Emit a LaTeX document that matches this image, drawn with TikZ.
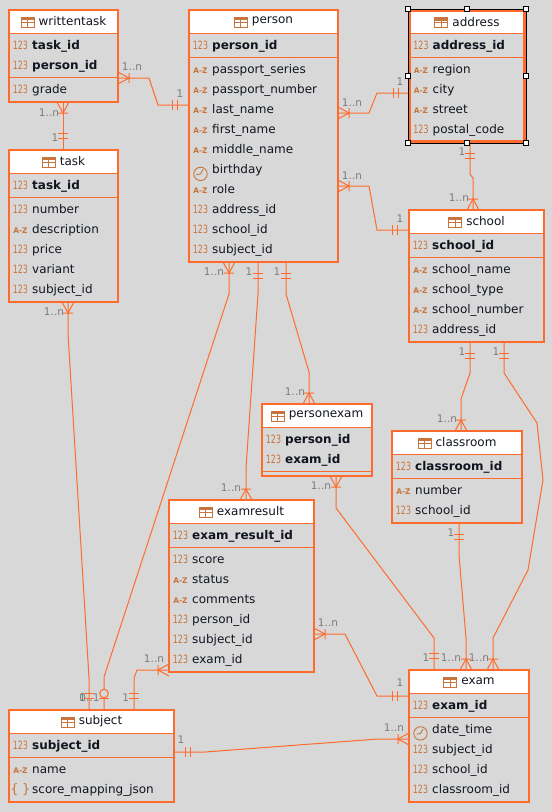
\documentclass[tikz,border=0pt]{standalone}
\usepackage{fontspec}
\setmainfont{DejaVu Sans}
\definecolor{bgcol}{HTML}{D8D8D8}
\definecolor{ercol}{HTML}{FF6B2C}
\definecolor{iconcol}{HTML}{C8743C}
\definecolor{labelcol}{HTML}{7C7C7C}
\definecolor{namecol}{HTML}{10151F}
\tikzset{
	tablebox/.style={draw=ercol,line width=2.3,inner sep=0,outer sep=0,anchor=north west},
	headbox/.style={fill=white,inner sep=0,outer sep=0,anchor=north west},
	rowline/.style={draw=ercol,line width=.9},
	titletext/.style={font=\fontsize{12}{14}\selectfont,text=namecol,inner sep=0,outer sep=0},
	colname/.style={font=\fontsize{12}{14}\selectfont,text=namecol,inner sep=0,anchor=base west},
	num/.style={font=\fontsize{11.4}{13}\selectfont,text=iconcol,inner sep=0,anchor=base},
	az/.style={font=\bfseries\fontsize{7.8}{9}\selectfont,text=iconcol,inner sep=0,anchor=base},
	brace/.style={font=\fontsize{13}{15}\selectfont,text=iconcol,inner sep=0,anchor=base},
	clock/.style={circle,draw=iconcol,line width=.9,minimum size=13.4,inner sep=0,anchor=center,
		path picture={\draw[iconcol,line width=.9] (path picture bounding box.center)++(-4,.8)--(path picture bounding box.center)--++(2.6,-4.4);}},
	relline/.style={draw=ercol,line width=1},
	rellabel/.style={font=\fontsize{10.5}{12}\selectfont,text=labelcol,inner sep=0,anchor=center},
	handle/.style={draw=black,fill=white,line width=1,minimum size=5,inner sep=0},
	selframe/.style={draw=black,line width=1,inner sep=0,outer sep=0,anchor=north west},
	tableicon/.pic={
		\fill[iconcol] (-7,-5) rectangle (7,-2);
		\draw[iconcol,line width=1] (-6.5,-5) rectangle (6.5,5) (-6.5,0)--(6.5,0) (0,-2)--(0,5);
	},
	onemark/.pic={
		\draw[relline] (11.5,-5)--(11.5,5) (16.5,-5)--(16.5,5);
	},
	manymark/.pic={
		\draw[relline] (0,-6)--(11,0)--(0,6) (11,-5)--(11,5);
	},
	zeromark/.pic={
		\draw[relline] (11.5,-5)--(11.5,5);
		\draw[relline,fill=bgcol] (16.5,0) circle (4.3);
	},
}
\newcommand{\iconnum}{\scalebox{.69}[1]{123}}
\newcommand{\iconaz}{\scalebox{.95}[1]{A-Z}}
\newcommand{\iconbrace}{\{\hspace{3.5pt}\}}
\newcommand{\iconclock}{}
\newcommand{\pk}[1]{\textbf{#1}}
% name, x, y, width, height, title
\newcommand{\erbox}[7][]{
	\node[headbox,minimum width=#5-2,minimum height=22] (#2-head) at (#3+1,#4+1) {};
	\node[tablebox,minimum width=#5,minimum height=#6,#1] (#2) at (#3,#4) {};
	\draw[rowline] (#2.west |- 0,#4+23.3) -- (#2.east |- 0,#4+23.3);
	\node[titletext] (#2-title) at (#3+#5/2,#4+11.5) {\hspace{18pt}#7};
	\pic at ([xshift=7pt,yshift=-.5pt]#2-title.west) {tableicon};
}
% table, x of the table, rows
\newcommand{\colrows}[3]{
	\foreach \yy/\ic/\txt [count=\n] in {#3} {
		\node[\ic] (#1-t\n) at (#2+11.5,\yy+4.4) {\csname icon\ic\endcsname};
		\node[colname] (#1-c\n) at (#2+23,\yy+4.4) {\txt};
	}
}
\newcommand{\seprow}[2]{\draw[rowline] (#1.west |- 0,#2) -- (#1.east |- 0,#2);}
\begin{document}
\begin{tikzpicture}[x=1pt,y=-1pt]
	\useasboundingbox (0,0) rectangle (552,812);
	\fill[bgcol] (0,0) rectangle (552,812);
	\erbox{writtentask}{9}{10}{109}{92}{writtentask}
	\seprow{writtentask}{77.3}
	\colrows{writtentask}{9}{45/num/\pk{task\_id},65/num/\pk{person\_id},89/num/grade}
	\erbox{task}{9}{150}{109}{152}{task}
	\seprow{task}{197.3}
	\colrows{task}{9}{185/num/\pk{task\_id},209/num/number,229/az/description,249/num/price,269/num/variant,289/num/subject\_id}
	\erbox{person}{189}{10}{149}{252}{person}
	\seprow{person}{57.3}
	\colrows{person}{189}{45/num/\pk{person\_id},69/az/passport\_series,89/az/passport\_number,109/az/last\_name,129/az/first\_name,149/az/middle\_name,169.5/clock/birthday,189/az/role,209/num/address\_id,229/num/school\_id,249/num/subject\_id}
	\erbox[line width=3]{address}{409.5}{10.5}{115}{131}{address}
	\seprow{address}{57.3}
	\colrows{address}{409.5}{45/num/\pk{address\_id},69/az/region,89/az/city,109/az/street,129/num/postal\_code}
	\erbox{school}{409}{210}{135}{132}{school}
	\seprow{school}{257.3}
	\colrows{school}{409}{245/num/\pk{school\_id},269/az/school\_name,289/az/school\_type,309/az/school\_number,329/num/address\_id}
	\erbox{personexam}{262}{404}{110}{72}{personexam}
	\seprow{personexam}{471.3}
	\colrows{personexam}{262}{439/num/\pk{person\_id},459/num/\pk{exam\_id}}
	\erbox{classroom}{392}{431}{130}{92}{classroom}
	\seprow{classroom}{478.3}
	\colrows{classroom}{392}{466/num/\pk{classroom\_id},490/az/number,510/num/school\_id}
	\erbox{examresult}{169}{500}{145}{172}{examresult}
	\seprow{examresult}{547.3}
	\colrows{examresult}{169}{535/num/\pk{exam\_result\_id},559/num/score,579/az/status,599/az/comments,619/num/person\_id,639/num/subject\_id,659/num/exam\_id}
	\erbox{subject}{9}{710}{165}{92}{subject}
	\seprow{subject}{757.3}
	\colrows{subject}{9}{745/num/\pk{subject\_id},769/az/name,789/brace/score\_mapping\_json}
	\erbox{exam}{409}{670}{120}{132}{exam}
	\seprow{exam}{717.3}
	\colrows{exam}{409}{705/num/\pk{exam\_id},729/clock/date\_time,749/num/subject\_id,769/num/school\_id,789/num/classroom\_id}
	\draw[relline] (writtentask.east |- 0,78) pic{manymark} -- (149,78) -- (158,105) -- (person.west |- 0,105) pic[rotate=180]{onemark};
	\draw[relline] (writtentask.south -| 63,0) pic[rotate=-90]{manymark} -- (task.north -| 63,0) pic[rotate=90]{onemark};
	\draw[relline] (person.east |- 0,113) pic{manymark} -- (369,113) -- (377,93) -- (address.west |- 0,93) pic[rotate=180]{onemark};
	\draw[relline] (person.east |- 0,186) pic{manymark} -- (369,186) -- (377,230) -- (school.west |- 0,230) pic[rotate=180]{onemark};
	\draw[relline] (address.south -| 470,0) pic[rotate=-90]{onemark} -- (470,174) -- (473,178) -- (school.north -| 473,0) pic[rotate=90]{manymark};
	\draw[relline] (school.south -| 470,0) pic[rotate=-90]{onemark} -- (470,373) -- (461,399) -- (classroom.north -| 461,0) pic[rotate=90]{manymark};
	\draw[relline] (school.south -| 504,0) pic[rotate=-90]{onemark} -- (504,373) -- (537,423) -- (543,480) -- (528,570) -- (493,638) -- (exam.north -| 493,0) pic[rotate=90]{manymark};
	\draw[relline] (classroom.south -| 459,0) pic[rotate=-90]{onemark} -- (459,555) -- (466,638) -- (exam.north -| 466,0) pic[rotate=90]{manymark};
	\draw[relline] (personexam.south -| 336,0) pic[rotate=-90]{manymark} -- (336,508) -- (434,638) -- (exam.north -| 434,0) pic[rotate=90]{onemark};
	\draw[relline] (person.south -| 229,0) pic[rotate=-90]{manymark} -- (229,294) -- (104,677) -- (subject.north -| 104,0) pic[rotate=90]{zeromark};
	\draw[relline] (person.south -| 258,0) pic[rotate=-90]{onemark} -- (258,294) -- (246,468) -- (examresult.north -| 246,0) pic[rotate=90]{manymark};
	\draw[relline] (person.south -| 286,0) pic[rotate=-90]{onemark} -- (286,294) -- (309,372) -- (personexam.north -| 309,0) pic[rotate=90]{manymark};
	\draw[relline] (task.south -| 68,0) pic[rotate=-90]{manymark} -- (68,334) -- (89,678) -- (subject.north -| 89,0) pic[rotate=90]{onemark};
	\draw[relline] (examresult.west |- 0,670) pic[rotate=180]{manymark} -- (137,670) -- (134,678) -- (subject.north -| 134,0) pic[rotate=90]{onemark};
	\draw[relline] (examresult.east |- 0,634) pic{manymark} -- (345,634) -- (377,696) -- (exam.west |- 0,696) pic[rotate=180]{onemark};
	\draw[relline] (subject.east |- 0,752) pic{onemark} -- (205,752) -- (378,739) -- (exam.west |- 0,739) pic[rotate=180]{manymark};
	\foreach \lx/\ly/\ltxt [count=\n] in {132/67/1..n,180/94/1,49/112.7/1..n,55/137.7/1,352/102.7/1..n,400/82/1,352/175.7/1..n,400/219/1,462/152/1,459/198/1..n,462/352/1,447/419/1..n,496/352/1,451/533/1,426/658/1,451/658/1..n,479/658/1..n,321/486/1..n,231/488/1..n,214/272/1..n,249/272/1,277/272/1,295/392/1..n,54/312/1..n,89.5/698/0..1,82.5/698/1,125.7/698/1,154/659/1..n,328/623/1..n,400/683/1,181/740/1,394/728/1..n} {
		\node[rellabel] (lab\n) at (\lx,\ly) {\ltxt};
	}
	\node[selframe,minimum width=118,minimum height=134] (selbox) at (408,9) {};
	\foreach \hx/\hy [count=\n] in {408/9,467/9,526/9,408/76,526/76,408/143,467/143,526/143} {
		\node[handle] (grip\n) at (\hx,\hy) {};
	}
\end{tikzpicture}
\end{document}
